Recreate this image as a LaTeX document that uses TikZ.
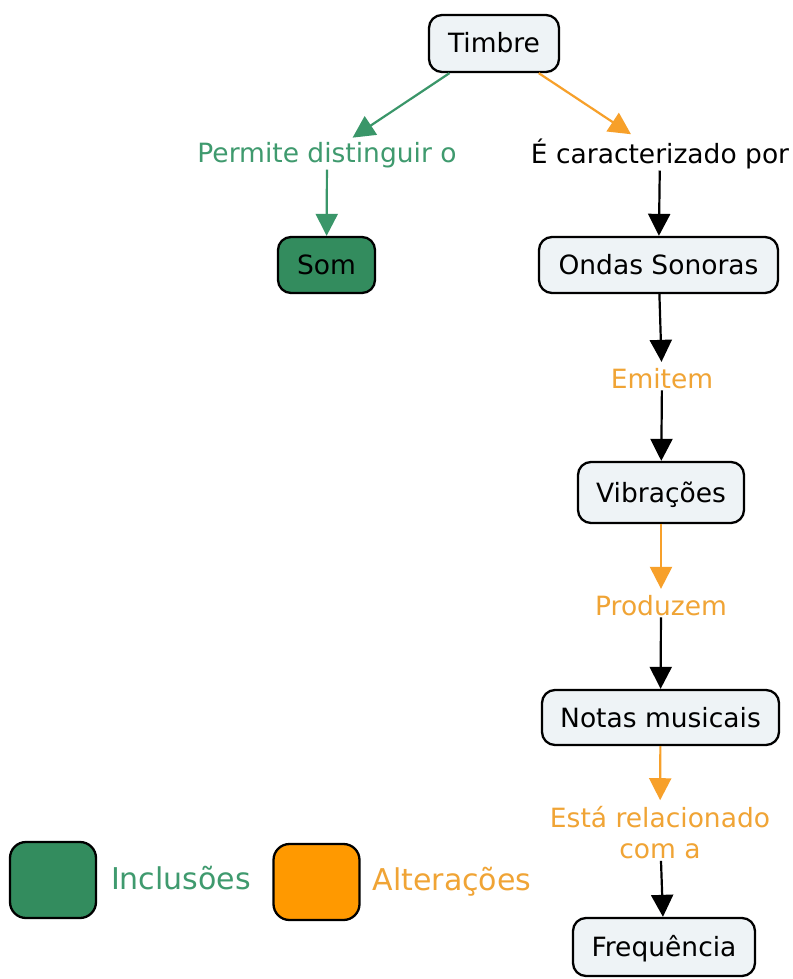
\documentclass[tikz,border=0pt]{standalone}
\usepackage{fontspec}
\setmainfont{DejaVu Sans}
\usetikzlibrary{arrows.meta}
\definecolor{boxfill}{HTML}{EEF3F6}
\definecolor{gfill}{HTML}{338C5E}
\definecolor{gline}{HTML}{3A9669}
\definecolor{gtext}{HTML}{3F9A6E}
\definecolor{ofill}{HTML}{FF9900}
\definecolor{oline}{HTML}{F7A02A}
\definecolor{otext}{HTML}{F0A435}
\begin{document}
\begin{tikzpicture}[x=1pt,y=-1pt,
  concept/.style={draw=black, line width=2.3pt, fill=boxfill, rounded corners=13pt,
    inner sep=0pt, text height=19pt, text depth=0pt, font=\fontsize{26.5}{31}\selectfont},
  lab/.style={inner sep=0pt, outer xsep=0pt, outer ysep=2pt, font=\fontsize{26.5}{31}\selectfont},
  legbox/.style={draw=black, line width=2.3pt, rounded corners=16pt, minimum width=86pt, minimum height=76pt, inner sep=0pt},
  legtext/.style={inner sep=0pt, font=\fontsize{30}{36}\selectfont, anchor=base},
  link/.style={line width=2.2pt, -{Triangle[length=22pt,width=22pt]}},
  tolab/.style={shorten >=4pt}]
\fill[white] (0,0) rectangle (792,979);
\useasboundingbox (0,0) rectangle (792,979);

\node[concept, minimum width=130pt, minimum height=57pt] (timbre) at (494,43.5) {Timbre};
\node[lab, text=gtext, anchor=base] (perm) at (327,162) {Permite distinguir o};
\node[lab, anchor=base] (carac) at (660,163) {É caracterizado por};
\node[concept, fill=gfill, minimum width=97pt, minimum height=56pt] (som) at (326.5,265) {Som};
\node[concept, minimum width=239pt, minimum height=56pt] (ondas) at (658.5,265) {Ondas Sonoras};
\node[lab, text=otext, anchor=base] (emit) at (662,388) {Emitem};
\node[concept, minimum width=166pt, minimum height=61pt] (vib) at (661,492.5) {Vibrações};
\node[lab, text=otext, anchor=base] (prod) at (661,615) {Produzem};
\node[concept, minimum width=237pt, minimum height=55pt] (notas) at (660.5,717.5) {Notas musicais};
\node[lab, text=otext, align=center] (rel) at (660,832.5) {Está relacionado\\com a};
\node[concept, minimum width=182pt, minimum height=58pt] (freq) at (664,947) {Frequência};

\node[legbox, fill=gfill] (lg) at (53,880) {};
\node[legtext, text=gtext] (lgt) at (181,889) {Inclusões};
\node[legbox, fill=ofill] (lo) at (316.5,882) {};
\node[legtext, text=otext] (lot) at (452,890) {Alterações};

\draw[link, tolab, draw=gline, fill=gline] (timbre) -- (perm);
\draw[link, tolab, draw=oline, fill=ofill] (timbre) -- (carac);
\draw[link, draw=gline, fill=gline] (perm) -- (som);
\draw[link, draw=black, fill=black] (carac) -- (ondas);
\draw[link, tolab, draw=black, fill=black] (ondas) -- (emit);
\draw[link, draw=black, fill=black] (emit) -- (vib);
\draw[link, tolab, draw=oline, fill=ofill] (vib) -- (prod);
\draw[link, draw=black, fill=black] (prod) -- (notas);
\draw[link, tolab, draw=oline, fill=ofill] (notas) -- (rel);
\draw[link, draw=black, fill=black] (rel) -- (freq);
\end{tikzpicture}
\end{document}
